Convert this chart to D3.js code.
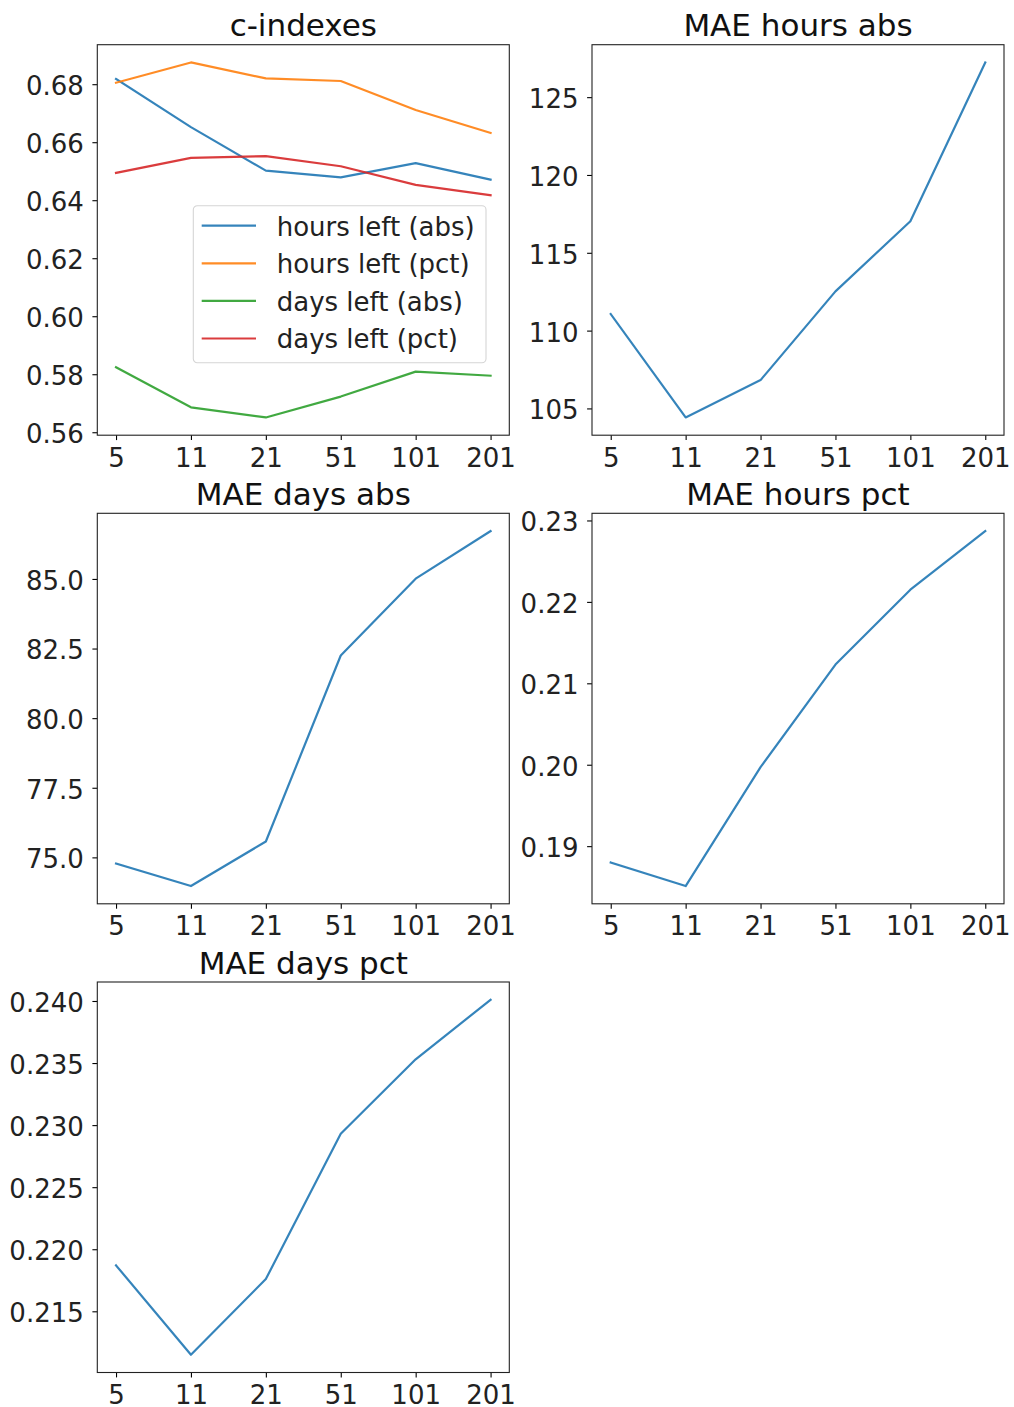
<!DOCTYPE html>
<html>
<head>
<meta charset="utf-8">
<script src="https://cdnjs.cloudflare.com/ajax/libs/d3/7.8.5/d3.min.js"></script>
<style>
  body { margin: 0; background: #fff; }
  svg { display: block; font-family: "DejaVu Sans", sans-serif; }
</style>
</head>
<body>
<svg id="chart" width="1014" height="1407"></svg>
<script>
// window sizes on the x axis (categorical)
const windows = ['5', '11', '21', '51', '101', '201'];

// c-indexes
const hoursLeftAbs = [0.6818, 0.6652, 0.6502, 0.6479, 0.6528, 0.6471];
const hoursLeftPct = [0.6805, 0.6875, 0.6820, 0.6811, 0.6711, 0.6632];
const daysLeftAbs  = [0.5824, 0.5686, 0.5651, 0.5723, 0.5809, 0.5795];
const daysLeftPct  = [0.6494, 0.6546, 0.6552, 0.6517, 0.6453, 0.6417];

// MAE values
const maeHoursAbs = [111.06, 104.42, 106.82, 112.52, 117.03, 127.23];
const maeDaysAbs  = [74.78, 73.97, 75.57, 82.25, 85.01, 86.72];
const maeHoursPct = [0.1880, 0.1851, 0.1997, 0.2123, 0.2215, 0.2287];
const maeDaysPct  = [0.2187, 0.2115, 0.2176, 0.2293, 0.2353, 0.2401];

// y tick labels for each panel
const ticksCindex   = [0.56, 0.58, 0.60, 0.62, 0.64, 0.66, 0.68];
const ticksHoursAbs = [105, 110, 115, 120, 125];
const ticksDaysAbs  = [75.0, 77.5, 80.0, 82.5, 85.0];
const ticksHoursPct = [0.19, 0.20, 0.21, 0.22, 0.23];
const ticksDaysPct  = [0.215, 0.220, 0.225, 0.230, 0.235, 0.240];

const legendLabels = ['hours left (abs)', 'hours left (pct)', 'days left (abs)', 'days left (pct)'];
const colors = ['#1f77b4', '#ff7f0e', '#2ca02c', '#d62728'];

const colX = [97.3, 592];
const rowY = [44.7, 513.3, 982];
const W = 412, H = 390.5;
const FS = 26;
const svg = d3.select('#chart');

svg.append('rect').attr('width', 1014).attr('height', 1407).attr('fill', '#fff');

const panels = [
  { title: 'c-indexes', col: 0, row: 0, series: [hoursLeftAbs, hoursLeftPct, daysLeftAbs, daysLeftPct], ticks: ticksCindex, fmt: '.2f', legend: true },
  { title: 'MAE hours abs', col: 1, row: 0, series: [maeHoursAbs], ticks: ticksHoursAbs, fmt: 'd' },
  { title: 'MAE days abs', col: 0, row: 1, series: [maeDaysAbs], ticks: ticksDaysAbs, fmt: '.1f' },
  { title: 'MAE hours pct', col: 1, row: 1, series: [maeHoursPct], ticks: ticksHoursPct, fmt: '.2f' },
  { title: 'MAE days pct', col: 0, row: 2, series: [maeDaysPct], ticks: ticksDaysPct, fmt: '.3f' }
];

panels.forEach(p => {
  const g = svg.append('g').attr('transform', `translate(${colX[p.col]},${rowY[p.row]})`);

  // matplotlib style: 5% margin on both axes
  const x = d3.scaleLinear().domain([-0.25, windows.length - 0.75]).range([0, W]);
  const ext = d3.extent(p.series.flat());
  const m = (ext[1] - ext[0]) * 0.05;
  const y = d3.scaleLinear().domain([ext[0] - m, ext[1] + m]).range([H, 0]);

  const line = d3.line().x((d, i) => x(i)).y(d => y(d));
  p.series.forEach((s, i) => {
    g.append('path').datum(s)
      .attr('d', line)
      .attr('fill', 'none')
      .attr('stroke', colors[i])
      .attr('stroke-width', 2.2)
      .attr('stroke-opacity', 0.9)
      .attr('stroke-linejoin', 'round')
      .attr('stroke-linecap', 'square');
  });

  // axes
  const xAxis = d3.axisBottom(x)
    .tickValues(d3.range(windows.length))
    .tickFormat(i => windows[i])
    .tickSize(4.9).tickPadding(8.3);
  const yAxis = d3.axisLeft(y)
    .tickValues(p.ticks)
    .tickFormat(d3.format(p.fmt))
    .tickSize(4.9).tickPadding(8.6);

  const gx = g.append('g').attr('transform', `translate(0,${H})`).call(xAxis);
  const gy = g.append('g').call(yAxis);
  [gx, gy].forEach(a => {
    a.select('.domain').remove();
    a.selectAll('line').attr('stroke', '#000').attr('stroke-width', 1.1);
    a.selectAll('text').attr('font-size', FS).attr('fill', '#222')
      .style('font-family', '"DejaVu Sans", sans-serif');
  });
  gy.selectAll('text').attr('dy', '0.4em');

  // frame
  g.append('rect').attr('width', W).attr('height', H)
    .attr('fill', 'none').attr('stroke', '#222').attr('stroke-width', 1.1);

  g.append('text')
    .attr('x', W / 2).attr('y', -8.5)
    .attr('text-anchor', 'middle')
    .attr('font-size', 31).attr('fill', '#111')
    .text(p.title);

  if (p.legend) {
    const lg = g.append('g').attr('transform', 'translate(96,161)');
    lg.append('rect').attr('width', 292.7).attr('height', 157)
      .attr('rx', 4).attr('fill', 'rgba(255,255,255,0.8)')
      .attr('stroke', '#d5d5d5').attr('stroke-width', 1.1);
    legendLabels.forEach((lab, i) => {
      const ly = 20 + i * 37.6;
      lg.append('line').attr('x1', 8.4).attr('x2', 62.7).attr('y1', ly).attr('y2', ly)
        .attr('stroke', colors[i]).attr('stroke-width', 2.2).attr('stroke-opacity', 0.9);
      lg.append('text').attr('x', 83.4).attr('y', ly + 10)
        .attr('font-size', FS).attr('fill', '#222').text(lab);
    });
  }
});
</script>
</body>
</html>
